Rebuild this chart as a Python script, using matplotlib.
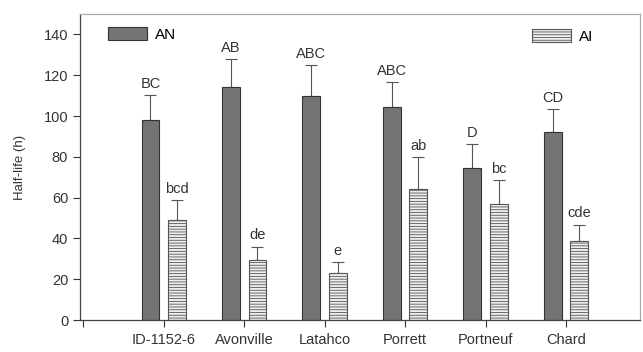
import matplotlib
matplotlib.use("Agg")
import matplotlib.pyplot as plt
import numpy as np
from matplotlib.legend import Legend

plt.rcParams['font.family'] = ['Liberation Sans', 'DejaVu Sans']
plt.rcParams['hatch.linewidth'] = 0.6
plt.rcParams['hatch.color'] = '#888888'

cultivars = ["ID-1152-6", "Avonville", "Latahco", "Porrett", "Portneuf", "Chard"]
an_values = [98, 114, 110, 104.5, 74.5, 92]
an_errors = [12.3, 14, 15, 12.3, 11.8, 11.4]
ai_values = [48.8, 29.5, 23, 64, 57, 38.5]
ai_errors = [10.2, 6.5, 5.5, 16, 11.5, 8.3]
an_letters = ["BC", "AB", "ABC", "ABC", "D", "CD"]
ai_letters = ["bcd", "de", "e", "ab", "bc", "cde"]
yticks = [0, 20, 40, 60, 80, 100, 120, 140]

fig = plt.figure(figsize=(6.43, 3.52), dpi=100)
ax = fig.add_axes([80/643, 1-320/352, (640-80)/643, (320-14)/352])

x = np.arange(1, len(cultivars) + 1)
w = 0.22
off = 0.165
ax.bar(x - off, an_values, w, color="#747474", edgecolor="#333333", linewidth=0.8, label="AN", zorder=2)
ax.bar(x + off, ai_values, w, color="#eeeeee", edgecolor="#555555", linewidth=0.8,
       hatch="------", label="AI", zorder=2)
ax.errorbar(x - off, an_values, yerr=[np.zeros(6), an_errors], fmt="none", ecolor="#555555",
            elinewidth=0.8, capsize=4, capthick=0.8, zorder=1)
ax.errorbar(x + off, ai_values, yerr=[np.zeros(6), ai_errors], fmt="none", ecolor="#555555",
            elinewidth=0.8, capsize=4, capthick=0.8, zorder=1)

for xi, v, e, t in zip(x - off, an_values, an_errors, an_letters):
    ax.text(xi, v + e + 2, t, ha="center", va="bottom", fontsize=10.5, color="#333333")
for xi, v, e, t in zip(x + off, ai_values, ai_errors, ai_letters):
    ax.text(xi, v + e + 2, t, ha="center", va="bottom", fontsize=10.5, color="#333333")

ax.set_xlim(-0.04, 6.92)
ax.set_ylim(0, 150)
ax.set_yticks(yticks)
ax.set_xticks(np.arange(0, 7))
ax.set_xticklabels([""] + cultivars)
ax.tick_params(axis="both", labelsize=10.5, colors="#333333", direction="out", length=5, width=0.8)
ax.tick_params(axis="x", pad=4)
ax.set_ylabel("Half-life (h)", fontsize=9.5, color="#333333", labelpad=13)

for s in ["left", "bottom"]:
    ax.spines[s].set_color("#444444")
    ax.spines[s].set_linewidth(0.9)
for s in ["top", "right"]:
    ax.spines[s].set_color("#aaaaaa")
    ax.spines[s].set_linewidth(0.9)

h, l = ax.get_legend_handles_labels()
ax.legend([h[0]], [l[0]], loc="upper left", bbox_to_anchor=((108-80)/560, (320-27)/306),
          frameon=False, fontsize=11, handlelength=2.55, handleheight=0.9,
          handletextpad=0.5, borderpad=0, borderaxespad=0)
lg2 = Legend(ax, [h[1]], [l[1]], loc="upper right", bbox_to_anchor=((593-80)/560, (320-29)/306),
             frameon=False, fontsize=11, handlelength=2.55, handleheight=0.9,
             handletextpad=0.5, borderpad=0, borderaxespad=0)
ax.add_artist(lg2)

fig.savefig("out.png", dpi=100)
